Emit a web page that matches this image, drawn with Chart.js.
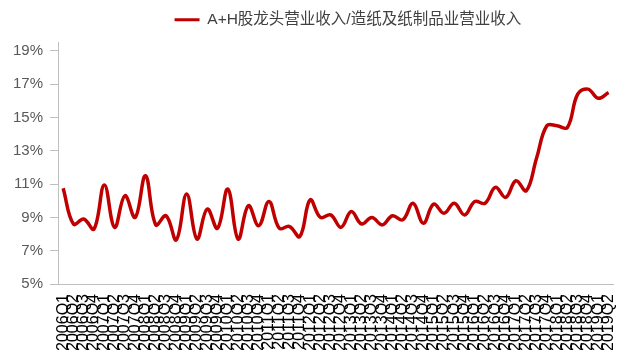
<!DOCTYPE html>
<html>
<head>
<meta charset="utf-8">
<script src="https://cdn.jsdelivr.net/npm/chart.js@4/dist/chart.umd.min.js"></script>
<style>
  html, body { margin: 0; padding: 0; background: #fff; }
  #wrap { width: 638px; height: 350px; }
</style>
</head>
<body>
<div id="wrap"><canvas id="ratioChart" width="638" height="350"></canvas></div>
<script>
// quarters 2006Q1 .. 2019Q2
const quarters = [
  '2006Q1','2006Q2','2006Q3','2006Q4','2007Q1','2007Q2','2007Q3','2007Q4',
  '2008Q1','2008Q2','2008Q3','2008Q4','2009Q1','2009Q2','2009Q3','2009Q4',
  '2010Q1','2010Q2','2010Q3','2010Q4','2011Q1','2011Q2','2011Q3','2011Q4',
  '2012Q1','2012Q2','2012Q3','2012Q4','2013Q1','2013Q2','2013Q3','2013Q4',
  '2014Q1','2014Q2','2014Q3','2014Q4','2015Q1','2015Q2','2015Q3','2015Q4',
  '2016Q1','2016Q2','2016Q3','2016Q4','2017Q1','2017Q2','2017Q3','2017Q4',
  '2018Q1','2018Q2','2018Q3','2018Q4','2019Q1','2019Q2'
];

// A+H leaders' revenue as % of paper industry revenue
const revenueShare = [
  10.75, 8.6, 8.9, 8.3, 10.95, 8.4, 10.3, 9.0,
  11.5, 8.55, 9.1, 7.65, 10.4, 7.7, 9.5, 8.35,
  10.7, 7.7, 9.7, 8.5, 9.95, 8.35, 8.45, 7.85,
  10.05, 9.0, 9.15, 8.4, 9.35, 8.6, 9.0, 8.55,
  9.1, 8.85, 9.85, 8.65, 9.8, 9.25, 9.85, 9.15,
  9.95, 9.85, 10.8, 10.2, 11.2, 10.6, 12.55, 14.5,
  14.5, 14.4, 16.4, 16.7, 16.15, 16.5
];

const yTicks = [5, 7, 9, 11, 13, 15, 17, 19];

const seriesName = 'A+H股龙头营业收入/造纸及纸制品业营业收入';
const lineRed = '#C00000';
const axisGrey = '#BFBFBF';
const fontFamily = "Arial, 'Liberation Sans', 'Noto Sans CJK SC', sans-serif";

// legend: a bit more room below it, and centred over the plot rather than the canvas
const legendPlacement = {
  id: 'legendPlacement',
  beforeInit(chart) {
    const fit = chart.legend.fit;
    chart.legend.fit = function () {
      fit.call(this);
      this.height += 5;
    };
  },
  afterLayout(chart) {
    chart.legend.left += 12;
    chart.legend.right += 12;
  }
};

const ctx = document.getElementById('ratioChart').getContext('2d');

new Chart(ctx, {
  type: 'line',
  data: {
    labels: quarters,
    datasets: [{
      label: seriesName,
      data: revenueShare,
      borderColor: lineRed,
      backgroundColor: lineRed,
      borderWidth: 3.5,
      pointRadius: 0,
      tension: 0.4,
      fill: false,
    }]
  },
  plugins: [legendPlacement],
  options: {
    responsive: false,
    animation: false,
    plugins: {
      legend: {
        position: 'top',
        fullSize: false,
        labels: {
          color: '#404040',
          font: { family: fontFamily, size: 15.5 },
          boxWidth: 25,
          boxHeight: 3,
          padding: 12,
          generateLabels: (chart) => {
            const items = Chart.defaults.plugins.legend.labels.generateLabels(chart);
            items.forEach(item => {
              item.lineWidth = 0;
              item.fillStyle = lineRed;
            });
            return items;
          },
        }
      },
      tooltip: { enabled: false },
    },
    scales: {
      x: {
        offset: true,
        grid: {
          display: true,
          drawOnChartArea: false,
          drawTicks: false,
        },
        border: { display: true, color: axisGrey, width: 1 },
        ticks: {
          autoSkip: false,
          maxRotation: 90,
          minRotation: 90,
          padding: 10,
          color: '#000',
          font: { family: fontFamily, size: 16 },
        },
        afterFit: (scale) => { scale.height = 66; },
      },
      y: {
        min: 5,
        max: 19.5,
        afterBuildTicks: (scale) => {
          scale.ticks = yTicks.map(v => ({ value: v }));
        },
        grid: {
          drawOnChartArea: false,
          drawTicks: true,
          tickLength: 8,
          color: axisGrey,
        },
        border: { display: true, color: axisGrey, width: 1 },
        ticks: {
          padding: 7,
          color: '#595959',
          font: { family: fontFamily, size: 15 },
          callback: (value) => value + '%',
        },
        afterFit: (scale) => { scale.width = 58; },
      }
    }
  }
});
</script>
</body>
</html>
